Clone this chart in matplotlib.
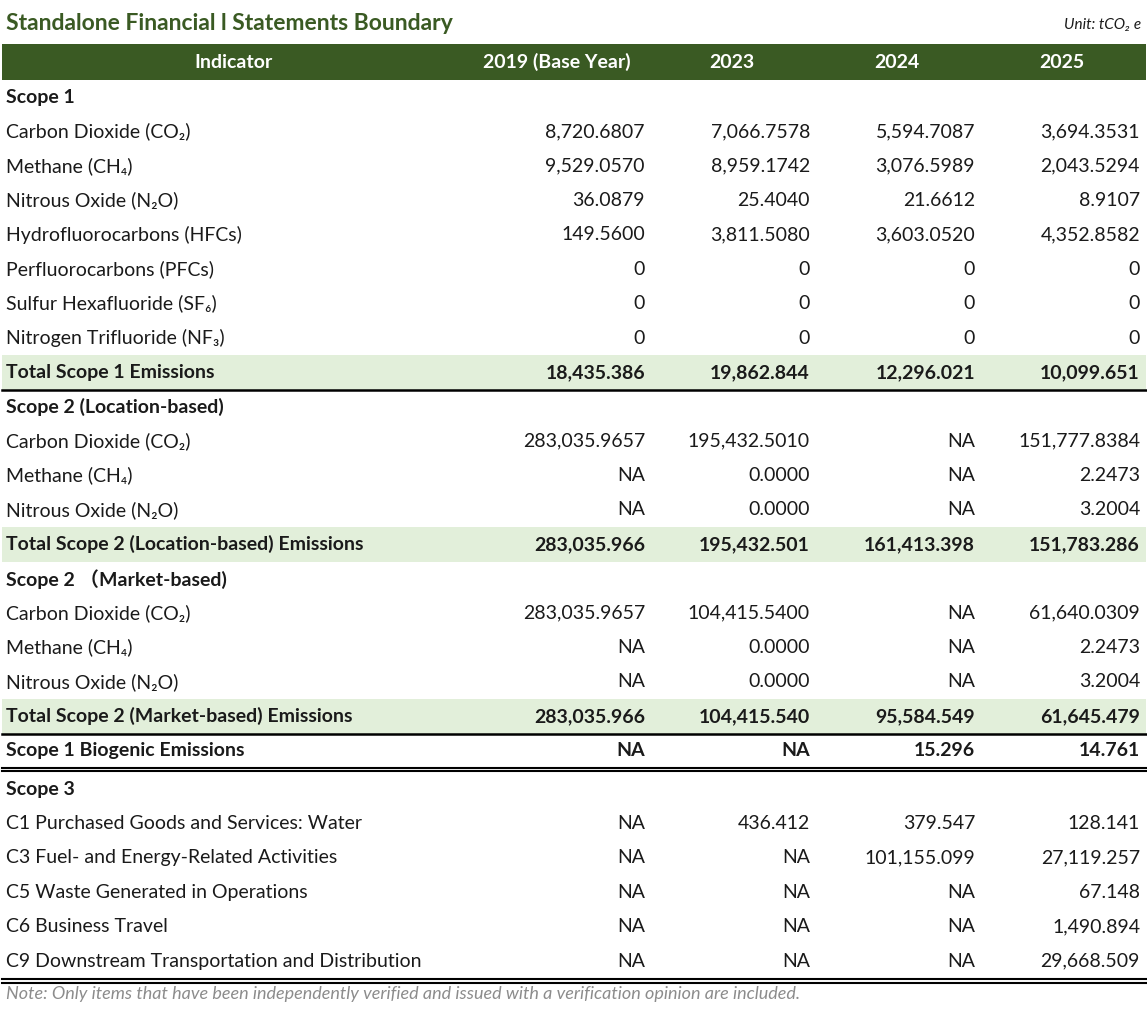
import matplotlib
matplotlib.use("Agg")
import matplotlib.pyplot as plt

plt.rcParams['font.family'] = ['Lato', 'DejaVu Sans', 'Noto Sans CJK SC']

title = "Standalone Financial l Statements Boundary"
unit = "Unit: tCO₂ e"
columns = ["Indicator", "2019 (Base Year)", "2023", "2024", "2025"]
note = "Note: Only items that have been independently verified and issued with a verification opinion are included."

# (label, values, kind) kind: section, item, total
rows = [
    ("Scope 1", None, "section"),
    ("Carbon Dioxide (CO₂)", ["8,720.6807", "7,066.7578", "5,594.7087", "3,694.3531"], "item"),
    ("Methane (CH₄)", ["9,529.0570", "8,959.1742", "3,076.5989", "2,043.5294"], "item"),
    ("Nitrous Oxide (N₂O)", ["36.0879", "25.4040", "21.6612", "8.9107"], "item"),
    ("Hydrofluorocarbons (HFCs)", ["149.5600", "3,811.5080", "3,603.0520", "4,352.8582"], "item"),
    ("Perfluorocarbons (PFCs)", ["0", "0", "0", "0"], "item"),
    ("Sulfur Hexafluoride (SF₆)", ["0", "0", "0", "0"], "item"),
    ("Nitrogen Trifluoride (NF₃)", ["0", "0", "0", "0"], "item"),
    ("Total Scope 1 Emissions", ["18,435.386", "19,862.844", "12,296.021", "10,099.651"], "total"),
    ("Scope 2 (Location-based)", None, "section"),
    ("Carbon Dioxide (CO₂)", ["283,035.9657", "195,432.5010", "NA", "151,777.8384"], "item"),
    ("Methane (CH₄)", ["NA", "0.0000", "NA", "2.2473"], "item"),
    ("Nitrous Oxide (N₂O)", ["NA", "0.0000", "NA", "3.2004"], "item"),
    ("Total Scope 2 (Location-based) Emissions", ["283,035.966", "195,432.501", "161,413.398", "151,783.286"], "total"),
    ("Scope 2 （Market-based)", None, "section"),
    ("Carbon Dioxide (CO₂)", ["283,035.9657", "104,415.5400", "NA", "61,640.0309"], "item"),
    ("Methane (CH₄)", ["NA", "0.0000", "NA", "2.2473"], "item"),
    ("Nitrous Oxide (N₂O)", ["NA", "0.0000", "NA", "3.2004"], "item"),
    ("Total Scope 2 (Market-based) Emissions", ["283,035.966", "104,415.540", "95,584.549", "61,645.479"], "total"),
    ("Scope 1 Biogenic Emissions", ["NA", "NA", "15.296", "14.761"], "bio"),
    ("Scope 3", None, "section"),
    ("C1 Purchased Goods and Services: Water", ["NA", "436.412", "379.547", "128.141"], "item"),
    ("C3 Fuel- and Energy-Related Activities", ["NA", "NA", "101,155.099", "27,119.257"], "item"),
    ("C5 Waste Generated in Operations", ["NA", "NA", "NA", "67.148"], "item"),
    ("C6 Business Travel", ["NA", "NA", "NA", "1,490.894"], "item"),
    ("C9 Downstream Transportation and Distribution", ["NA", "NA", "NA", "29,668.509"], "item"),
]

W, H = 1147, 1014
fig = plt.figure(figsize=(W / 100, H / 100), dpi=100)
ax = fig.add_axes([0, 0, 1, 1])
ax.set_xlim(0, W)
ax.set_ylim(H, 0)
ax.axis("off")

dark = "#3a5a23"
light = "#e2efda"
txt = "#1a1a1a"
fs = 14
left, right = 2, 1146
col_right = [645, 810, 975, 1140]
head_centers = [234, 557, 732, 897, 1062]

ax.text(6, 23, title, fontsize=16.5, fontweight="bold", color=dark, va="center")
ax.text(1141, 25, unit, fontsize=11, style="italic", color=txt, va="center", ha="right")

ax.add_patch(plt.Rectangle((left, 44), right - left, 36, color=dark, lw=0))
for c, x in zip(columns, head_centers):
    ax.text(x, 62, c, fontsize=fs, fontweight="bold", color="white", ha="center", va="center")

rh = 34.4
y = 80
for label, vals, kind in rows:
    if label == "Scope 3":
        y += 4
    cy = y + rh / 2
    if kind == "total":
        ax.add_patch(plt.Rectangle((left, y), right - left, rh, color=light, lw=0))
    bold = kind in ("section", "total", "bio")
    ax.text(6, cy, label, fontsize=fs, fontweight="bold" if bold else "normal",
            color=txt, va="center")
    if vals:
        for v, x in zip(vals, col_right):
            ax.text(x, cy, v, fontsize=fs, fontweight="bold" if bold else "normal",
                    color=txt, va="center", ha="right")
    y += rh
    if label in ("Total Scope 1 Emissions", "Total Scope 2 (Market-based) Emissions"):
        ax.plot([left, right], [y, y], color="black", lw=1.8)
    if kind == "bio":
        ax.plot([left, right], [y, y], color="black", lw=1.5)
        ax.plot([left, right], [y + 3.5, y + 3.5], color="black", lw=1.5)

ax.plot([left, right], [y + 1, y + 1], color="black", lw=1.5)
ax.plot([left, right], [y + 4.5, y + 4.5], color="black", lw=1.5)
ax.text(6, 994, note, fontsize=13, style="italic", color="#8c8c8c", va="center")

fig.savefig("out.png", dpi=100)
